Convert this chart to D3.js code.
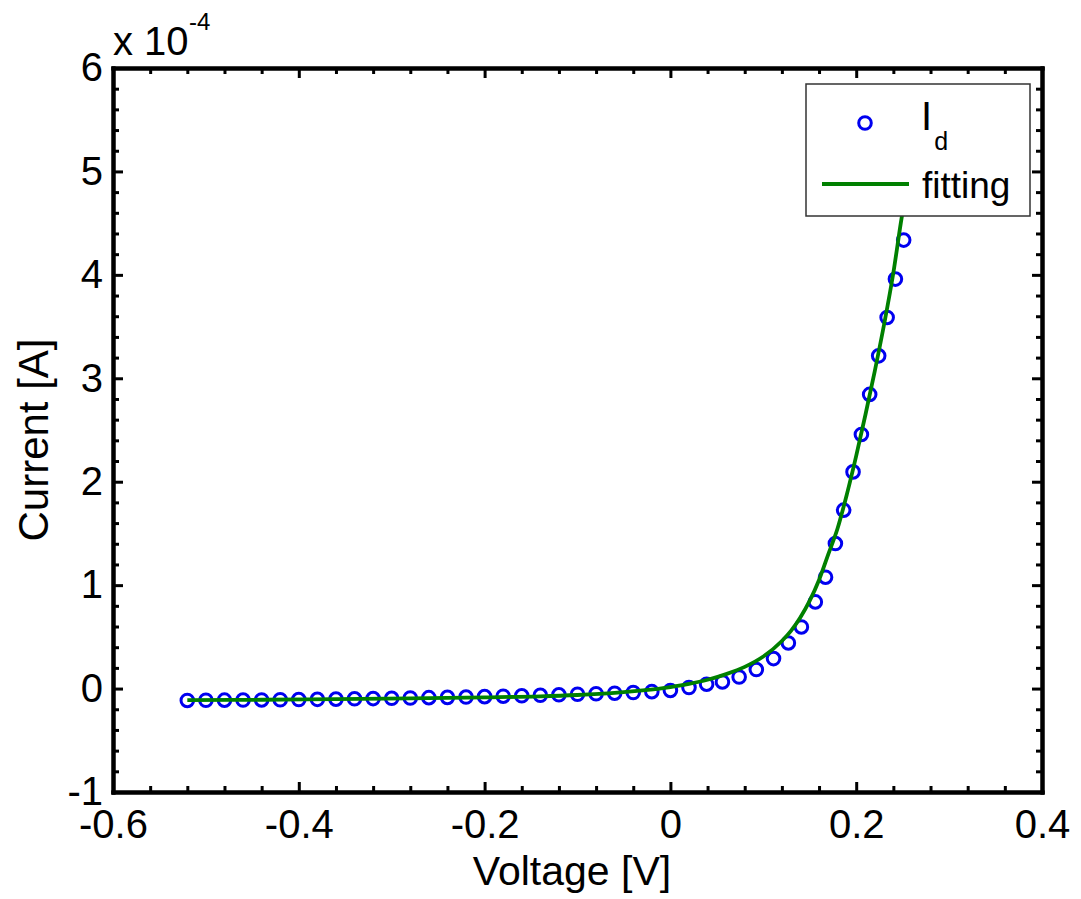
<!DOCTYPE html>
<html>
<head>
<meta charset="utf-8">
<script src="https://cdn.jsdelivr.net/npm/d3@7"></script>
<style>
html, body { margin: 0; padding: 0; background: #ffffff; }
svg { display: block; font-family: Arial, "Liberation Sans", Helvetica, sans-serif; }
</style>
</head>
<body>
<svg id="chart" width="1081" height="899"></svg>
<script>
// ---- data (current in units of 1e-4 A) ----
const voltage = [-0.52, -0.50, -0.48, -0.46, -0.44, -0.42, -0.40, -0.38, -0.36, -0.34,
  -0.32, -0.30, -0.28, -0.26, -0.24, -0.22, -0.20, -0.18, -0.16, -0.14,
  -0.12, -0.10, -0.08, -0.06, -0.04, -0.02, 0.00,
  0.020, 0.039, 0.056, 0.074, 0.0925, 0.111, 0.127, 0.141, 0.156, 0.167,
  0.1776, 0.1865, 0.1966, 0.2056, 0.2145, 0.2242, 0.2333, 0.2422, 0.2511];
const currentId = [-0.115, -0.113, -0.112, -0.111, -0.110, -0.108, -0.106, -0.104, -0.102, -0.099,
  -0.097, -0.094, -0.091, -0.088, -0.085, -0.082, -0.078, -0.074, -0.070, -0.065,
  -0.060, -0.055, -0.050, -0.045, -0.038, -0.030, -0.018,
  0.010, 0.042, 0.064, 0.112, 0.184, 0.290, 0.441, 0.596, 0.838, 1.077,
  1.402, 1.725, 2.095, 2.457, 2.844, 3.217, 3.588, 3.959, 4.336];

const fitVoltage = [-0.52, -0.44, -0.36, -0.28, -0.20, -0.14, -0.10, -0.06, -0.03, 0.00,
  0.02, 0.04, 0.06, 0.08, 0.10, 0.12, 0.13, 0.14, 0.15, 0.16, 0.17,
  0.18, 0.19, 0.20, 0.21, 0.22, 0.23, 0.24, 0.248, 0.253];
const fitCurrent = [-0.112, -0.108, -0.102, -0.095, -0.085, -0.075, -0.062, -0.042, -0.018, 0.015,
  0.045, 0.085, 0.14, 0.21, 0.31, 0.46, 0.56, 0.69, 0.85, 1.05, 1.30,
  1.55, 1.88, 2.25, 2.65, 3.07, 3.52, 4.02, 4.50, 4.78];

const xTicks = [-0.6, -0.4, -0.2, 0, 0.2, 0.4];
const xTickLabels = ["-0.6", "-0.4", "-0.2", "0", "0.2", "0.4"];
const yTicks = [-1, 0, 1, 2, 3, 4, 5, 6];
const yTickLabels = ["-1", "0", "1", "2", "3", "4", "5", "6"];
const xMinorTicks = [-0.56, -0.52, -0.48, -0.44, -0.36, -0.32, -0.28, -0.24, -0.16, -0.12, -0.08, -0.04,
  0.04, 0.08, 0.12, 0.16, 0.24, 0.28, 0.32, 0.36];
const yMinorTicks = [-0.8, -0.6, -0.4, -0.2, 0.2, 0.4, 0.6, 0.8, 1.2, 1.4, 1.6, 1.8, 2.2, 2.4, 2.6, 2.8,
  3.2, 3.4, 3.6, 3.8, 4.2, 4.4, 4.6, 4.8, 5.2, 5.4, 5.6, 5.8];
const xLabel = "Voltage [V]";
const yLabel = "Current [A]";
const legendLabels = ["I", "d", "fitting"];

// ---- layout ----
const svg = d3.select("#chart");
const L = 113, R = 1042, T = 68, B = 792;
const x = d3.scaleLinear().domain([-0.6, 0.4]).range([L, R]);
const y = d3.scaleLinear().domain([-1, 6]).range([B, T]);

const blue = "#0000f0", green = "#008000";

// data markers
svg.append("g").selectAll("circle")
  .data(voltage.map((v, i) => [v, currentId[i]]))
  .join("circle")
  .attr("cx", d => x(d[0])).attr("cy", d => y(d[1]))
  .attr("r", 6.3)
  .attr("fill", "none").attr("stroke", blue).attr("stroke-width", 3);

// fitting line
svg.append("path")
  .datum(fitVoltage.map((v, i) => [v, fitCurrent[i]]))
  .attr("fill", "none").attr("stroke", green).attr("stroke-width", 3.8)
  .attr("stroke-linejoin", "round")
  .attr("d", d3.line().x(d => x(d[0])).y(d => y(d[1])).curve(d3.curveMonotoneX));

// ---- axes ----
function styleAxis(g) {
  g.select(".domain").attr("stroke", "#000").attr("stroke-width", 4).attr("stroke-linecap", "square");
  g.selectAll(".tick line").attr("stroke", "#000").attr("stroke-width", 3);
  g.selectAll(".tick text").attr("fill", "#000").attr("font-size", 40)
    .attr("font-family", "Arial, 'Liberation Sans', Helvetica, sans-serif");
}

// bottom major
svg.append("g").attr("transform", `translate(0,${B})`)
  .call(d3.axisBottom(x).tickValues(xTicks).tickFormat((d, i) => xTickLabels[i])
    .tickSizeInner(-10).tickSizeOuter(0).tickPadding(18))
  .call(styleAxis);
// bottom minor
svg.append("g").attr("transform", `translate(0,${B})`)
  .call(d3.axisBottom(x).tickValues(xMinorTicks).tickFormat("").tickSizeInner(-6).tickSizeOuter(0))
  .call(styleAxis);
// top
svg.append("g").attr("transform", `translate(0,${T})`)
  .call(d3.axisTop(x).tickValues(xTicks).tickFormat("").tickSizeInner(-10).tickSizeOuter(0))
  .call(styleAxis);
svg.append("g").attr("transform", `translate(0,${T})`)
  .call(d3.axisTop(x).tickValues(xMinorTicks).tickFormat("").tickSizeInner(-6).tickSizeOuter(0))
  .call(styleAxis);
// left
svg.append("g").attr("transform", `translate(${L},0)`)
  .call(d3.axisLeft(y).tickValues(yTicks).tickFormat((d, i) => yTickLabels[i])
    .tickSizeInner(-10).tickSizeOuter(0).tickPadding(10))
  .call(styleAxis);
svg.append("g").attr("transform", `translate(${L},0)`)
  .call(d3.axisLeft(y).tickValues(yMinorTicks).tickFormat("").tickSizeInner(-6).tickSizeOuter(0))
  .call(styleAxis);
// right
svg.append("g").attr("transform", `translate(${R},0)`)
  .call(d3.axisRight(y).tickValues(yTicks).tickFormat("").tickSizeInner(-10).tickSizeOuter(0))
  .call(styleAxis);
svg.append("g").attr("transform", `translate(${R},0)`)
  .call(d3.axisRight(y).tickValues(yMinorTicks).tickFormat("").tickSizeInner(-6).tickSizeOuter(0))
  .call(styleAxis);

// axis labels
svg.append("text").attr("x", 572).attr("y", 885).attr("text-anchor", "middle")
  .attr("font-size", 41).attr("fill", "#000").text(xLabel);
svg.append("text").attr("transform", "translate(48,440) rotate(-90)").attr("text-anchor", "middle")
  .attr("font-size", 42).attr("fill", "#000").text(yLabel);

// exponent
svg.append("text").attr("x", 113).attr("y", 55).attr("font-size", 40).attr("fill", "#000").text("x 10");
svg.append("text").attr("x", 189).attr("y", 30).attr("font-size", 24).attr("fill", "#000").text("-4");

// ---- legend ----
const lg = svg.append("g");
lg.append("rect").attr("x", 806).attr("y", 84).attr("width", 224).attr("height", 132)
  .attr("fill", "#fff").attr("stroke", "#333").attr("stroke-width", 1.5);
lg.append("circle").attr("cx", 865).attr("cy", 123).attr("r", 6.3)
  .attr("fill", "none").attr("stroke", blue).attr("stroke-width", 3);
const t1 = lg.append("text").attr("x", 921).attr("y", 130).attr("fill", "#000");
t1.append("tspan").attr("font-size", 40).text(legendLabels[0]);
t1.append("tspan").attr("font-size", 25).attr("dx", 2).attr("dy", 20).text(legendLabels[1]);
lg.append("line").attr("x1", 822).attr("x2", 909).attr("y1", 184).attr("y2", 184)
  .attr("stroke", green).attr("stroke-width", 3.8);
lg.append("text").attr("x", 922).attr("y", 198).attr("font-size", 37).attr("fill", "#000").text(legendLabels[2]);
</script>
</body>
</html>
